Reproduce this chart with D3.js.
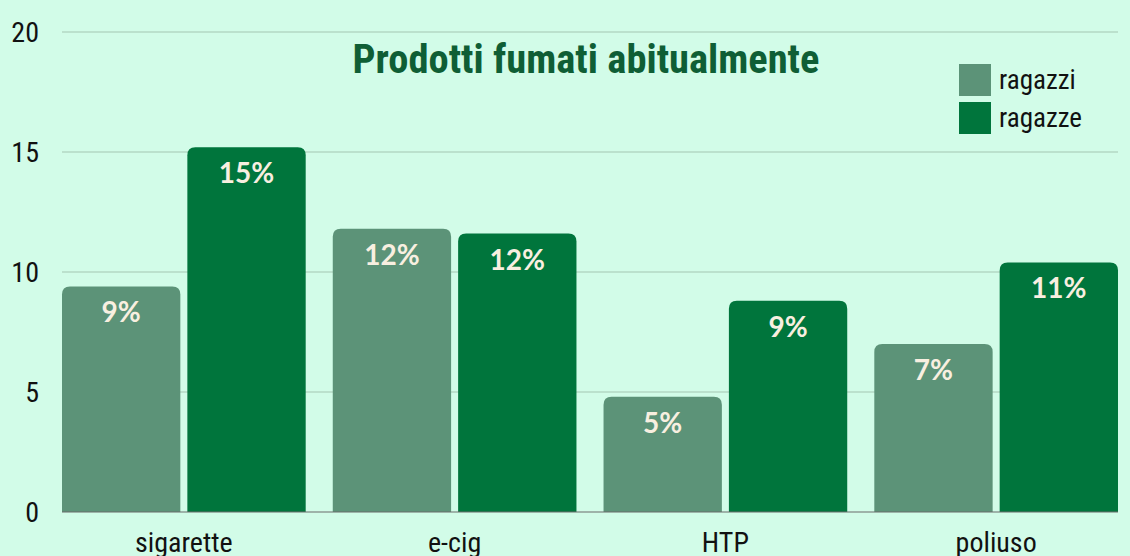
<!DOCTYPE html>
<html>
<head>
<meta charset="utf-8">
<script src="https://cdn.jsdelivr.net/npm/d3@7"></script>
<style>
  body { margin: 0; background: #d2fce8; }
  svg { display: block; }
</style>
</head>
<body>
<svg></svg>
<script>
var categories = ["sigarette", "e-cig", "HTP", "poliuso"];
var seriesNames = ["ragazzi", "ragazze"];
var ragazzi = [9.4, 11.8, 4.8, 7.0];
var ragazze = [15.2, 11.6, 8.8, 10.4];
var ragazziLabels = ["9%", "12%", "5%", "7%"];
var ragazzeLabels = ["15%", "12%", "9%", "11%"];
var yTicks = [0, 5, 10, 15, 20];

var colors = { ragazzi: "#5c9378", ragazze: "#00753c" };
var condensed = "'Roboto Condensed', 'Liberation Sans Narrow', 'DejaVu Sans Condensed', sans-serif";

var svgWidth = 1130, svgHeight = 556;
var svg = d3.select("svg")
    .attr("width", svgWidth)
    .attr("height", svgHeight)
    .style("background-color", "#d2fce8");

var plotLeft = 62, plotRight = 1118, plotTop = 32, plotBottom = 512;

var x0 = d3.scaleBand().domain(categories).range([plotLeft, plotRight]).paddingInner(0.1).paddingOuter(0);
var x1 = d3.scaleBand().domain(seriesNames).range([0, x0.bandwidth()]).paddingInner(0.056);
var y = d3.scaleLinear().domain([0, 20]).range([plotBottom, plotTop]);

// gridlines
svg.append("g")
    .selectAll("line")
    .data(yTicks.filter(function (d) { return d > 0; }))
    .enter()
    .append("line")
    .attr("x1", plotLeft)
    .attr("x2", plotRight)
    .attr("y1", function (d) { return y(d); })
    .attr("y2", function (d) { return y(d); })
    .style("stroke", "#b3d8c4")
    .style("stroke-width", 1.5);

// y tick labels
svg.append("g")
    .selectAll("text")
    .data(yTicks)
    .enter()
    .append("text")
    .attr("x", 39)
    .attr("y", function (d) { return y(d); })
    .attr("dy", "0.35em")
    .attr("text-anchor", "end")
    .style("font-family", condensed)
    .style("font-size", "28px")
    .style("fill", "#111")
    .text(function (d) { return d; });

// rounded-top bar path
function topRounded(x, yTop, w, h, r) {
    r = Math.min(r, h, w / 2);
    return "M" + x + "," + (yTop + h) +
        "V" + (yTop + r) +
        "Q" + x + "," + yTop + " " + (x + r) + "," + yTop +
        "H" + (x + w - r) +
        "Q" + (x + w) + "," + yTop + " " + (x + w) + "," + (yTop + r) +
        "V" + (yTop + h) + "Z";
}

var rows = categories.map(function (c, i) {
    return [
        { cat: c, key: "ragazzi", value: ragazzi[i], label: ragazziLabels[i] },
        { cat: c, key: "ragazze", value: ragazze[i], label: ragazzeLabels[i] }
    ];
});

var groups = svg.append("g")
    .selectAll("g")
    .data(rows)
    .enter()
    .append("g")
    .attr("transform", function (d) { return "translate(" + x0(d[0].cat) + ",0)"; });

groups.selectAll("path")
    .data(function (d) { return d; })
    .enter()
    .append("path")
    .attr("d", function (d) {
        return topRounded(x1(d.key), y(d.value), x1.bandwidth(), plotBottom - y(d.value), 8);
    })
    .style("fill", function (d) { return colors[d.key]; });

groups.selectAll("text")
    .data(function (d) { return d; })
    .enter()
    .append("text")
    .attr("x", function (d) { return x1(d.key) + x1.bandwidth() / 2; })
    .attr("y", function (d) { return y(d.value) + 36; })
    .attr("text-anchor", "middle")
    .style("font-family", "Lato, sans-serif")
    .style("font-weight", "700")
    .style("font-size", "28px")
    .style("fill", "#f8efe0")
    .text(function (d) { return d.label; });

// baseline
svg.append("line")
    .attr("x1", plotLeft)
    .attr("x2", plotRight)
    .attr("y1", plotBottom)
    .attr("y2", plotBottom)
    .style("stroke", "#6b6b6b")
    .style("stroke-width", 1);

// category labels
svg.append("g")
    .selectAll("text")
    .data(categories)
    .enter()
    .append("text")
    .attr("x", function (d) { return x0(d) + x0.bandwidth() / 2; })
    .attr("y", 552)
    .attr("text-anchor", "middle")
    .style("font-family", condensed)
    .style("font-size", "28px")
    .style("fill", "#111")
    .text(function (d) { return d; });

// Title
svg.append("text")
    .attr("x", 586)
    .attr("y", 73)
    .attr("text-anchor", "middle")
    .style("font-family", condensed)
    .style("font-weight", "700")
    .style("font-size", "40.5px")
    .style("fill", "#0f5e35")
    .text("Prodotti fumati abitualmente");

// legend
var legend = svg.append("g")
    .selectAll("g")
    .data(seriesNames)
    .enter()
    .append("g")
    .attr("transform", function (d, i) { return "translate(959," + (64 + i * 38) + ")"; });

legend.append("rect")
    .attr("width", 32)
    .attr("height", 32)
    .style("fill", function (d) { return colors[d]; });

legend.append("text")
    .attr("x", 40)
    .attr("y", 16)
    .attr("dy", "0.35em")
    .style("font-family", condensed)
    .style("font-size", "27px")
    .style("fill", "#111")
    .text(function (d) { return d; });
</script>
</body>
</html>
